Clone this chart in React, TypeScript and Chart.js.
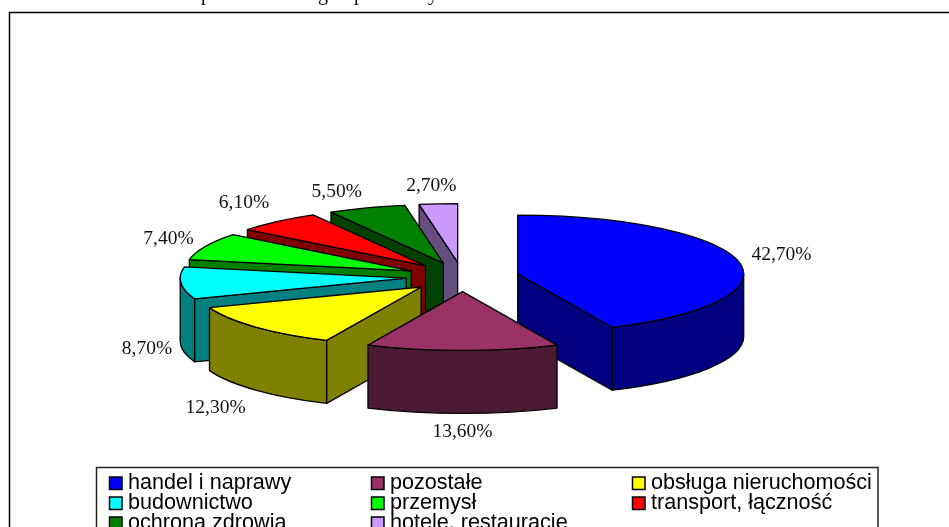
import React, { useEffect, useRef } from "react";
import { Chart, registerables } from "chart.js";

Chart.register(...registerables);

const categories = [
  "handel i naprawy",
  "pozostałe",
  "obsługa nieruchomości",
  "budownictwo",
  "przemysł",
  "transport, łączność",
  "ochrona zdrowia",
  "hotele, restauracje",
];
const shares = [42.7, 13.6, 12.3, 8.7, 7.4, 6.1, 5.5, 2.7];
const topColors = ["#0000ff", "#993366", "#ffff00", "#00ffff", "#00ff00", "#ff0000", "#008000", "#cc99ff"];
const sideColors = ["#000080", "#4d1a33", "#808000", "#008080", "#008000", "#800000", "#004000", "#664d80"];
const labelNudges = [
  [43, -6.5],
  [0, 81.5],
  [-40, 80.5],
  [-34, 65.5],
  [-37, -7.5],
  [-33.5, -18.5],
  [-30, -16.5],
  [-7, -17.5],
];
const clippedHeading = [
  ["p", 206],
  ["g", 323],
  ["p", 359],
  ["y", 433],
];

const SQUASH = 0.26;
const EXPLODE = 56.5;
const DEPTH = 63;

const pie3d = {
  id: "pie3d",
  beforeDraw(chart: any) {
    const { ctx, width, height } = chart;
    ctx.save();
    ctx.fillStyle = "#fff";
    ctx.fillRect(0, 0, width, height);
    ctx.strokeStyle = "#000";
    ctx.lineWidth = 1.5;
    ctx.beginPath();
    ctx.moveTo(9.5, height + 5);
    ctx.lineTo(9.5, 12.5);
    ctx.lineTo(width + 5, 12.5);
    ctx.stroke();
    ctx.fillStyle = "#000";
    ctx.font = '20px "Liberation Serif"';
    ctx.textAlign = "center";
    ctx.textBaseline = "alphabetic";
    clippedHeading.forEach(([g, x]) => ctx.fillText(g as string, x as number, 0));
    ctx.restore();
  },
  beforeDatasetsDraw(chart: any) {
    const { ctx } = chart;
    const arcs: any[] = chart.getDatasetMeta(0).data;
    const geo = arcs.map((arc, i) => {
      const mid = (arc.startAngle + arc.endAngle) / 2;
      return {
        i,
        mid,
        a0: arc.startAngle,
        a1: arc.endAngle,
        rx: arc.outerRadius,
        ry: arc.outerRadius * SQUASH,
        cx: arc.x + Math.cos(mid) * EXPLODE,
        cy: arc.y + Math.sin(mid) * EXPLODE * SQUASH,
      };
    });
    const order = [...geo].sort((p, q) => p.cy - q.cy);
    ctx.save();
    ctx.lineWidth = 1.3;
    ctx.lineJoin = "round";
    ctx.strokeStyle = "#000";
    const paint = (fill: string) => {
      ctx.fillStyle = fill;
      ctx.fill();
      ctx.stroke();
    };
    const wall = (g: any, a: number, fill: string) => {
      const ex = g.cx + g.rx * Math.cos(a);
      const ey = g.cy + g.ry * Math.sin(a);
      ctx.beginPath();
      ctx.moveTo(g.cx, g.cy);
      ctx.lineTo(ex, ey);
      ctx.lineTo(ex, ey + DEPTH);
      ctx.lineTo(g.cx, g.cy + DEPTH);
      ctx.closePath();
      paint(fill);
    };
    order.forEach((g) => {
      const side = sideColors[g.i];
      if (Math.cos(g.a0) < 0) wall(g, g.a0, side);
      if (Math.cos(g.a1) > 0) wall(g, g.a1, side);
      const s = Math.max(g.a0, 0);
      const e = Math.min(g.a1, Math.PI);
      if (e > s) {
        ctx.beginPath();
        ctx.ellipse(g.cx, g.cy, g.rx, g.ry, 0, s, e, false);
        ctx.ellipse(g.cx, g.cy + DEPTH, g.rx, g.ry, 0, e, s, true);
        ctx.closePath();
        paint(side);
      }
      ctx.beginPath();
      ctx.moveTo(g.cx, g.cy);
      ctx.ellipse(g.cx, g.cy, g.rx, g.ry, 0, g.a0, g.a1, false);
      ctx.closePath();
      paint(topColors[g.i]);
    });
    ctx.fillStyle = "#111";
    ctx.font = '19.5px "Liberation Serif"';
    ctx.textAlign = "center";
    ctx.textBaseline = "middle";
    geo.forEach((g) => {
      const x = g.cx + g.rx * Math.cos(g.mid) + labelNudges[g.i][0];
      const y = g.cy + g.ry * Math.sin(g.mid) + labelNudges[g.i][1];
      ctx.fillText(shares[g.i].toFixed(2).replace(".", ",") + "%", x, y);
    });
    ctx.restore();
    return false;
  },
  afterDraw(chart: any) {
    const { ctx, height } = chart;
    ctx.save();
    ctx.strokeStyle = "#222";
    ctx.lineWidth = 1.5;
    ctx.beginPath();
    ctx.moveTo(96.5, height + 5);
    ctx.lineTo(96.5, 467.5);
    ctx.lineTo(878, 467.5);
    ctx.lineTo(878, height + 5);
    ctx.stroke();
    ctx.font = '21.6px "Liberation Sans"';
    ctx.textAlign = "left";
    ctx.textBaseline = "middle";
    const colX = [109.5, 371.5, 632.5];
    const rowY = [483.5, 503.5, 523.5];
    categories.forEach((name, i) => {
      const x = colX[i % 3];
      const y = rowY[Math.floor(i / 3)];
      ctx.fillStyle = topColors[i];
      ctx.strokeStyle = "#000";
      ctx.lineWidth = 1.5;
      ctx.fillRect(x, y - 6.5, 12.5, 12.5);
      ctx.strokeRect(x, y - 6.5, 12.5, 12.5);
      ctx.fillStyle = "#000";
      ctx.fillText(name, x + 18.5, y);
    });
    ctx.restore();
  },
};

export default function App() {
  const ref = useRef<HTMLCanvasElement>(null);
  useEffect(() => {
    const chart = new Chart(ref.current!, {
      type: "pie",
      data: {
        labels: categories,
        datasets: [{ data: shares, backgroundColor: topColors, borderColor: "#000", borderWidth: 1 }],
      },
      options: {
        responsive: false,
        animation: false,
        radius: 226,
        layout: { padding: { left: 3, right: 27, top: 27, bottom: 0 } },
        plugins: { legend: { display: false }, tooltip: { enabled: false }, title: { display: false } },
      },
      plugins: [pie3d],
    } as any);
    return () => chart.destroy();
  }, []);
  return (
    <div style={{ position: "absolute", left: 0, top: 0, width: 949, height: 527, overflow: "hidden" }}>
      <canvas ref={ref} width={949} height={527} style={{ display: "block" }} />
    </div>
  );
}
